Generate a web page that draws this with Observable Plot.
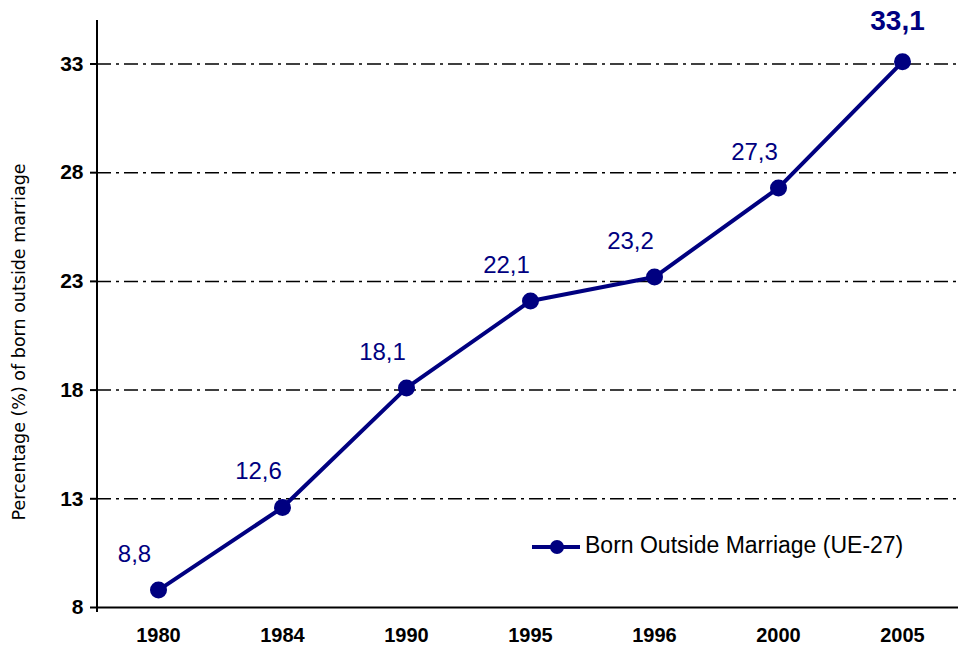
<!DOCTYPE html>
<html><head><meta charset="utf-8">
<script src="https://cdn.jsdelivr.net/npm/d3@7"></script>
<script src="https://cdn.jsdelivr.net/npm/@observablehq/plot@0.6"></script>
<style>body{margin:0;background:#fff} #chart{width:958px;height:646px}</style>
</head><body><div id="chart"></div>
<script>
const years = ["1980","1984","1990","1995","1996","2000","2005"];
const values = [8.8,12.6,18.1,22.1,23.2,27.3,33.1];
const labels = ["8,8","12,6","18,1","22,1","23,2","27,3","33,1"];
const yTicks = [8,13,18,23,28,33];
const seriesName = "Born Outside Marriage (UE-27)";
const yTitle = "Percentage (%) of born outside marriage";

const data = years.map((year, i) => ({year, value: values[i], label: labels[i]}));
const last = data.length - 1;
const NAVY = "#000080";

const leftAxisLine = (index, scales, values, dim) => {
  const g = d3.create("svg:g");
  g.append("line")
    .attr("x1", dim.marginLeft).attr("x2", dim.marginLeft)
    .attr("y1", dim.marginTop).attr("y2", dim.height - dim.marginBottom + 5)
    .attr("stroke", "black").attr("stroke-width", 2);
  return g.node();
};

const yTitleMark = (index, scales, values, dim) => {
  const g = d3.create("svg:g");
  g.append("text")
    .attr("transform", "translate(20,342) rotate(-90)")
    .attr("text-anchor", "middle")
    .attr("dominant-baseline", "middle")
    .attr("font-family", "DejaVu Sans, Verdana, sans-serif")
    .attr("font-size", 17.5)
    .attr("fill", "black")
    .text(yTitle);
  return g.node();
};

const legendMark = (index, scales, values, dim) => {
  const g = d3.create("svg:g");
  const ly = 547;
  g.append("line").attr("x1", 532).attr("x2", 580).attr("y1", ly).attr("y2", ly)
    .attr("stroke", NAVY).attr("stroke-width", 4);
  g.append("circle").attr("cx", 557).attr("cy", ly).attr("r", 7).attr("fill", NAVY);
  g.append("text").attr("x", 585).attr("y", ly)
    .attr("text-anchor", "start")
    .attr("dominant-baseline", "middle")
    .attr("font-size", 23).attr("fill", "black").text(seriesName);
  return g.node();
};

const chart = Plot.plot({
  width: 958,
  height: 646,
  marginLeft: 97,
  marginRight: 0,
  marginTop: 20,
  marginBottom: 39,
  style: {fontFamily: "Liberation Sans, Arial, sans-serif", background: "white", color: "black"},
  x: {type: "point", domain: years, padding: 0.46, align: 0.524},
  y: {domain: [8, 35]},
  marks: [
    Plot.ruleY(yTicks.slice(1), {stroke: "black", strokeWidth: 1.5, strokeDasharray: "14,5,3,5"}),
    Plot.ruleY([yTicks[0]], {stroke: "black", strokeWidth: 2}),
    leftAxisLine,
    Plot.axisY({ticks: yTicks, tickSize: 7, tickPadding: 7, strokeWidth: 2, fontSize: 21, fontWeight: "bold", tickFormat: d => String(d), label: null}),
    Plot.axisX({tickSize: 0, tickPadding: 20, fontSize: 20, fontWeight: "bold", label: null}),
    Plot.line(data, {x: "year", y: "value", stroke: NAVY, strokeWidth: 4}),
    Plot.dot(data, {x: "year", y: "value", r: 8.5, fill: NAVY}),
    Plot.text(data.slice(0, last), {x: "year", y: "value", text: "label", dx: -24, dy: -36, fill: NAVY, fontSize: 24}),
    Plot.text(data.slice(last), {x: "year", y: "value", text: "label", dx: -5, dy: -41, fill: NAVY, fontSize: 28, fontWeight: "bold"}),
    yTitleMark,
    legendMark
  ]
});
document.getElementById("chart").append(chart);
</script>
</body></html>
